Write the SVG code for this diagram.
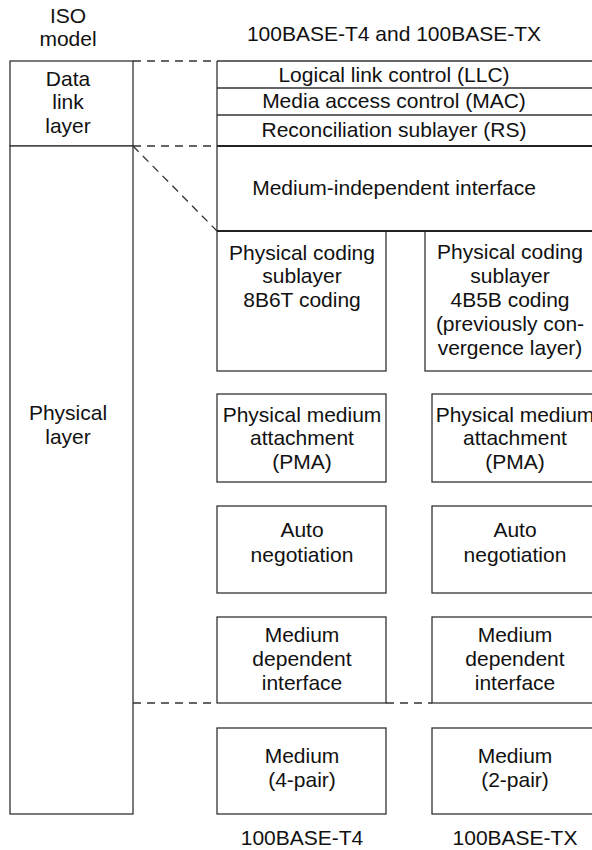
<svg xmlns="http://www.w3.org/2000/svg" width="592" height="850" viewBox="0 0 592 850">
<style>
.t{font-family:"Liberation Sans",Arial,Helvetica,sans-serif;font-size:21px;fill:#111;text-anchor:middle}
.b{fill:#fff;stroke:#333;stroke-width:1.3}
.ln{stroke:#333;stroke-width:1.3;fill:none}
.th{stroke:#222;stroke-width:2;fill:none}
.d{stroke:#333;stroke-width:1.3;stroke-dasharray:8 6;fill:none}
</style>
<rect width="592" height="850" fill="#fff"/>
<g id="labels">
<text class="t" x="68" y="23">ISO</text>
<text class="t" x="68" y="46">model</text>
<text class="t" x="394" y="41">100BASE-T4 and 100BASE-TX</text>
<text class="t" x="302" y="845">100BASE-T4</text>
<text class="t" x="515" y="845">100BASE-TX</text>
</g>
<g id="connectors">
<line class="d" x1="133" y1="61" x2="217" y2="61"/>
<line class="d" x1="133" y1="146" x2="217" y2="146"/>
<line class="d" x1="133" y1="146" x2="217" y2="231"/>
<line class="d" x1="133" y1="703" x2="217" y2="703"/>
<line class="d" x1="386" y1="703" x2="432" y2="703"/>
</g>
<g id="iso-datalink">
<rect class="b" x="10" y="61" width="123" height="85"/>
<text class="t" x="68" y="86">Data</text>
<text class="t" x="68" y="109">link</text>
<text class="t" x="68" y="133">layer</text>
</g>
<g id="iso-physical">
<rect class="b" x="10" y="146" width="123" height="668"/>
<text class="t" x="68" y="420">Physical</text>
<text class="t" x="68" y="444">layer</text>
</g>
<g id="llc">
<line class="ln" x1="217" y1="61" x2="592" y2="61"/>
<line class="ln" x1="217" y1="61" x2="217" y2="88"/>
<text class="t" x="394" y="82">Logical link control (LLC)</text>
</g>
<g id="mac">
<line class="ln" x1="217" y1="88" x2="592" y2="88"/>
<line class="ln" x1="217" y1="88" x2="217" y2="115"/>
<text class="t" x="394" y="108">Media access control (MAC)</text>
</g>
<g id="rs">
<line class="ln" x1="217" y1="115" x2="592" y2="115"/>
<line class="ln" x1="217" y1="115" x2="217" y2="146"/>
<text class="t" x="394" y="137">Reconciliation sublayer (RS)</text>
</g>
<g id="mii">
<line class="th" x1="217" y1="146" x2="592" y2="146"/>
<line class="ln" x1="217" y1="146" x2="217" y2="231"/>
<line class="th" x1="217" y1="231" x2="592" y2="231"/>
<text class="t" x="394" y="195">Medium-independent interface</text>
</g>
<g id="pcs-t4">
<rect class="b" x="217" y="231" width="169" height="140"/>
<text class="t" x="302" y="260">Physical coding</text>
<text class="t" x="302" y="283">sublayer</text>
<text class="t" x="302" y="307">8B6T coding</text>
</g>
<g id="pcs-tx">
<rect class="b" x="425" y="231" width="180" height="140"/>
<text class="t" x="510" y="259">Physical coding</text>
<text class="t" x="510" y="283">sublayer</text>
<text class="t" x="510" y="307">4B5B coding</text>
<text class="t" x="510" y="331">(previously con-</text>
<text class="t" x="510" y="355">vergence layer)</text>
</g>
<line class="th" x1="217" y1="231" x2="592" y2="231"/>
<g id="pma-t4">
<rect class="b" x="217" y="394" width="169" height="88"/>
<text class="t" x="302" y="422">Physical medium</text>
<text class="t" x="302" y="445">attachment</text>
<text class="t" x="302" y="469">(PMA)</text>
</g>
<g id="pma-tx">
<rect class="b" x="432" y="394" width="170" height="88"/>
<text class="t" x="515" y="422">Physical medium</text>
<text class="t" x="515" y="445">attachment</text>
<text class="t" x="515" y="469">(PMA)</text>
</g>
<g id="auto-t4">
<rect class="b" x="217" y="506" width="169" height="87"/>
<text class="t" x="302" y="537">Auto</text>
<text class="t" x="302" y="562">negotiation</text>
</g>
<g id="auto-tx">
<rect class="b" x="432" y="506" width="170" height="87"/>
<text class="t" x="515" y="537">Auto</text>
<text class="t" x="515" y="562">negotiation</text>
</g>
<g id="mdi-t4">
<rect class="b" x="217" y="617" width="169" height="86"/>
<text class="t" x="302" y="642">Medium</text>
<text class="t" x="302" y="666">dependent</text>
<text class="t" x="302" y="690">interface</text>
</g>
<g id="mdi-tx">
<rect class="b" x="432" y="617" width="170" height="86"/>
<text class="t" x="515" y="642">Medium</text>
<text class="t" x="515" y="666">dependent</text>
<text class="t" x="515" y="690">interface</text>
</g>
<g id="medium-t4">
<rect class="b" x="217" y="728" width="169" height="86"/>
<text class="t" x="302" y="763">Medium</text>
<text class="t" x="302" y="787">(4-pair)</text>
</g>
<g id="medium-tx">
<rect class="b" x="432" y="728" width="170" height="86"/>
<text class="t" x="515" y="763">Medium</text>
<text class="t" x="515" y="787">(2-pair)</text>
</g>
</svg>
